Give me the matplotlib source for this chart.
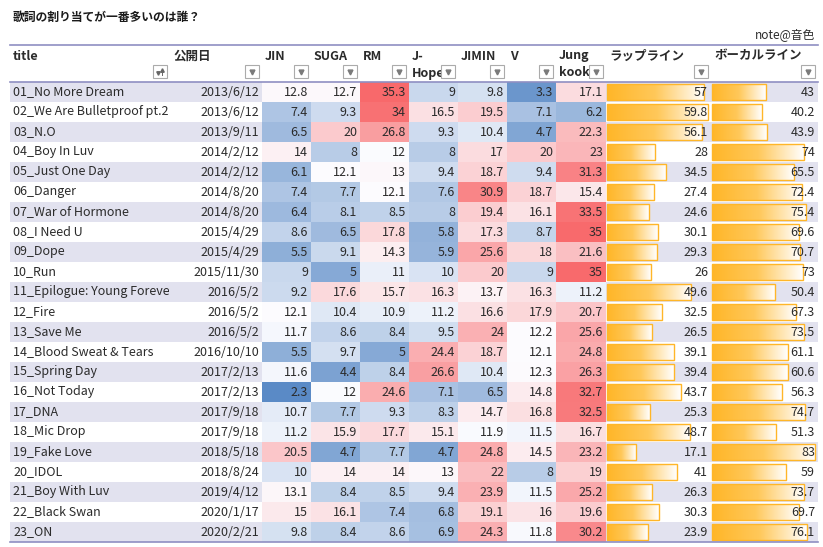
import numpy as np
import matplotlib
matplotlib.use("Agg")
import matplotlib.pyplot as plt
from matplotlib.patches import Rectangle
from matplotlib.colors import LinearSegmentedColormap, TwoSlopeNorm
from matplotlib.transforms import Bbox, TransformedBbox

plt.rcParams['font.family'] = ['Noto Sans CJK JP', 'DejaVu Sans']

# ---- data ----
titles = ["01_No More Dream", "02_We Are Bulletproof pt.2", "03_N.O", "04_Boy In Luv",
          "05_Just One Day", "06_Danger", "07_War of Hormone", "08_I Need U", "09_Dope",
          "10_Run", "11_Epilogue: Young Forever", "12_Fire", "13_Save Me",
          "14_Blood Sweat & Tears", "15_Spring Day", "16_Not Today", "17_DNA",
          "18_Mic Drop", "19_Fake Love", "20_IDOL", "21_Boy With Luv", "22_Black Swan", "23_ON"]
dates = ["2013/6/12", "2013/6/12", "2013/9/11", "2014/2/12", "2014/2/12", "2014/8/20",
         "2014/8/20", "2015/4/29", "2015/4/29", "2015/11/30", "2016/5/2", "2016/5/2",
         "2016/5/2", "2016/10/10", "2017/2/13", "2017/2/13", "2017/9/18", "2017/9/18",
         "2018/5/18", "2018/8/24", "2019/4/12", "2020/1/17", "2020/2/21"]
jin = [12.8, 7.4, 6.5, 14, 6.1, 7.4, 6.4, 8.6, 5.5, 9, 9.2, 12.1, 11.7, 5.5, 11.6, 2.3,
       10.7, 11.2, 20.5, 10, 13.1, 15, 9.8]
suga = [12.7, 9.3, 20, 8, 12.1, 7.7, 8.1, 6.5, 9.1, 5, 17.6, 10.4, 8.6, 9.7, 4.4, 12,
        7.7, 15.9, 4.7, 14, 8.4, 16.1, 8.4]
rm = [35.3, 34, 26.8, 12, 13, 12.1, 8.5, 17.8, 14.3, 11, 15.7, 10.9, 8.4, 5, 8.4, 24.6,
      9.3, 17.7, 7.7, 14, 8.5, 7.4, 8.6]
jhope = [9, 16.5, 9.3, 8, 9.4, 7.6, 8, 5.8, 5.9, 10, 16.3, 11.2, 9.5, 24.4, 26.6, 7.1,
         8.3, 15.1, 4.7, 13, 9.4, 6.8, 6.9]
jimin = [9.8, 19.5, 10.4, 17, 18.7, 30.9, 19.4, 17.3, 25.6, 20, 13.7, 16.6, 24, 18.7,
         10.4, 6.5, 14.7, 11.9, 24.8, 22, 23.9, 19.1, 24.3]
v = [3.3, 7.1, 4.7, 20, 9.4, 18.7, 16.1, 8.7, 18, 9, 16.3, 17.9, 12.2, 12.1, 12.3, 14.8,
     16.8, 11.5, 14.5, 8, 11.5, 16, 11.8]
jk = [17.1, 6.2, 22.3, 23, 31.3, 15.4, 33.5, 35, 21.6, 35, 11.2, 20.7, 25.6, 24.8, 26.3,
      32.7, 32.5, 16.7, 23.2, 19, 25.2, 19.6, 30.2]
rap = [57, 59.8, 56.1, 28, 34.5, 27.4, 24.6, 30.1, 29.3, 26, 49.6, 32.5, 26.5, 39.1,
       39.4, 43.7, 25.3, 48.7, 17.1, 41, 26.3, 30.3, 23.9]
vocal = [43, 40.2, 43.9, 74, 65.5, 72.4, 75.4, 69.6, 70.7, 73, 50.4, 67.3, 73.5, 61.1,
         60.6, 56.3, 74.7, 51.3, 83, 59, 73.7, 69.7, 76.1]
headers = ["title", "公開日", "JIN", "SUGA", "RM", "J-\nHope", "JIMIN", "V", "Jung\nkook",
           "ラップライン", "ボーカルライン"]

# ---- layout (pixel units) ----
W, H = 823, 547
col_edges = [10, 170, 262, 311, 360, 409, 458, 507, 556, 606, 711, 818]
head_top, head_bot, row_h = 45, 82, 20
fs = 9
txt_col = '#2B2B2B'
band = '#E2E2EF'
line_col = '#8F8FC2'

fig = plt.figure(figsize=(W / 100, H / 100), dpi=100)
ax = fig.add_axes([0, 0, 1, 1])
ax.set_xlim(0, W)
ax.set_ylim(H, 0)

n = len(titles)
row_tops = head_bot + row_h * np.arange(n)
row_mid = row_tops + row_h / 2


def fmt(x):
    return f"{x:g}"


# banded rows
for i in range(0, n, 2):
    ax.add_patch(Rectangle((col_edges[0], row_tops[i]), col_edges[-1] - col_edges[0], row_h,
                           fc=band, ec='none', zorder=0))

# colour scale cells (blue - white - red, midpoint at 50th percentile)
heat = np.array([jin, suga, rm, jhope, jimin, v, jk]).T
cmap = LinearSegmentedColormap.from_list('bwr_xl', ['#5A8AC6', '#FCFCFF', '#F8696B'])
norm = TwoSlopeNorm(vmin=heat.min(), vcenter=np.percentile(heat, 50), vmax=heat.max())
ax.pcolormesh(col_edges[2:10], np.append(row_tops, row_tops[-1] + row_h), heat,
              cmap=cmap, norm=norm, zorder=1)

# title / date columns (title text cut at the cell edge like the sheet does)
clip_box = TransformedBbox(Bbox([[col_edges[0], 0], [col_edges[1] - 1, H]]), ax.transData)
for i in range(n):
    t = ax.text(col_edges[0] + 3, row_mid[i], titles[i], ha='left', va='center',
                fontsize=fs, color=txt_col, zorder=4)
    t.set_clip_path(None)
    t.set_clip_box(clip_box)
    t.set_clip_on(True)
    ax.text(col_edges[2] - 3, row_mid[i], dates[i], ha='right', va='center',
            fontsize=fs, color=txt_col, zorder=4)
    for j in range(heat.shape[1]):
        ax.text(col_edges[3 + j] - 3, row_mid[i], fmt(heat[i, j]), ha='right', va='center',
                fontsize=fs, color=txt_col, zorder=4)

# gradient data bars
bar_cmap = LinearSegmentedColormap.from_list('bar', ['#FFB628', '#FFC85A', '#FFFFFF'])
grad = np.linspace(0, 1, 256).reshape(1, -1)


def data_bar(vals, left, right):
    vals = np.asarray(vals, dtype=float)
    scale = (right - left - 4) / vals.max()
    bars = ax.barh(row_mid, vals * scale, left=left + 1.5, height=row_h - 4,
                   fc='none', ec='#FFB628', lw=1, zorder=3)
    for b in bars:
        x0, y0 = b.get_x(), b.get_y()
        ax.imshow(grad, cmap=bar_cmap, aspect='auto', interpolation='bilinear',
                  extent=[x0, x0 + b.get_width(), y0 + b.get_height(), y0], zorder=2)
    for i, val in enumerate(vals):
        ax.text(right - 3, row_mid[i], fmt(val), ha='right', va='center',
                fontsize=fs, color=txt_col, zorder=4)


data_bar(rap, col_edges[9], col_edges[10])
data_bar(vocal, col_edges[10], col_edges[11])

# header
for k, label in enumerate(headers):
    left, right = col_edges[k], col_edges[k + 1]
    for m, part in enumerate(label.split('\n')):
        ax.text(left + 3, 56 + 17 * m, part, ha='left', va='center', fontsize=fs,
                fontweight='bold', color=txt_col, zorder=4)
    # filter button
    bx = right - 17
    ax.add_patch(Rectangle((bx, 65), 14, 13, fc='#FFFFFF', ec='#ABABAB', lw=0.8, zorder=5))
    if k == 0:
        ax.plot([bx + 5], [73], marker='v', ms=2.5, color='#666666', zorder=6)
        ax.plot([bx + 9, bx + 9], [69, 75], color='#666666', lw=0.7, zorder=6)
        ax.plot([bx + 9], [69.5], marker='^', ms=2.5, color='#666666', zorder=6)
    else:
        ax.plot([bx + 7], [72], marker='v', ms=3.5, color='#7A7A7A', zorder=6)

# table rules
for y in (head_top, head_bot, head_bot + row_h * n):
    ax.plot([col_edges[0], col_edges[-1]], [y, y], color=line_col, lw=1.2, zorder=6)

ax.text(13, 17, "歌詞の割り当てが一番多いのは誰？", ha='left', va='center', fontsize=8.5,
        fontweight='bold', color='#1A1A1A')
ax.text(815, 35, "note@音色", ha='right', va='center', fontsize=8.5, color=txt_col)

ax.set_xlim(0, W)
ax.set_ylim(H, 0)
ax.axis('off')
fig.savefig('out.png', dpi=100)
